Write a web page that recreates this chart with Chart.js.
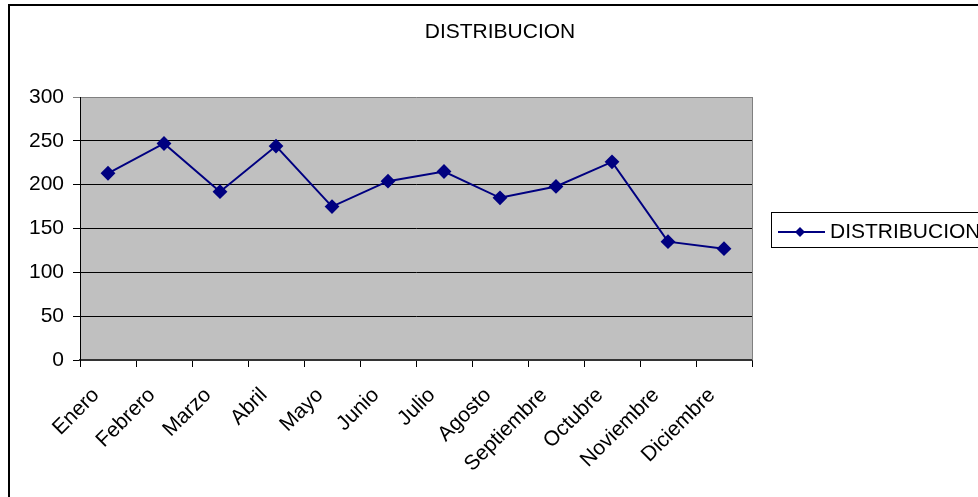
<!DOCTYPE html>
<html>
<head>
<meta charset="utf-8">
<script src="https://cdn.jsdelivr.net/npm/chart.js@4/dist/chart.umd.min.js"></script>
<style>
  html, body { margin: 0; padding: 0; background: #fff; }
  #wrap { width: 978px; height: 497px; position: relative; }
</style>
</head>
<body>
<div id="wrap"><canvas id="c" width="978" height="497"></canvas></div>
<script>
const chartTitle = "DISTRIBUCION";
const seriesName = "DISTRIBUCION";
const months = ["Enero","Febrero","Marzo","Abril","Mayo","Junio","Julio","Agosto","Septiembre","Octubre","Noviembre","Diciembre"];
const distribucion = [213, 247, 192, 244, 175, 204, 215, 185, 198, 226, 135, 127];
const yTicks = [0, 50, 100, 150, 200, 250, 300];

const FONT = "'Liberation Sans', Arial, sans-serif";
const FSIZE = 21;
const NAVY = "#000080";

const framePlugin = {
  id: 'frame',
  beforeDraw(chart) {
    const {ctx, chartArea: a} = chart;
    ctx.save();
    ctx.fillStyle = '#c0c0c0';
    ctx.fillRect(a.left, a.top, a.right - a.left, a.bottom - a.top);
    ctx.restore();
  },
  afterDraw(chart) {
    const {ctx, chartArea: a} = chart;
    ctx.save();
    // plot right border
    ctx.strokeStyle = '#808080';
    ctx.lineWidth = 1;
    ctx.beginPath();
    ctx.moveTo(a.right + 0.5, a.top);
    ctx.lineTo(a.right + 0.5, a.bottom);
    ctx.stroke();
    // outer border
    ctx.strokeStyle = '#000';
    ctx.lineWidth = 2;
    ctx.strokeRect(9, 5, 1100, 1100);
    // title
    ctx.fillStyle = '#000';
    ctx.font = FSIZE + "px " + FONT;
    ctx.textAlign = 'center';
    ctx.textBaseline = 'middle';
    ctx.fillText(chartTitle, 500, 32);
    // legend
    const lx = 771, ly = 212, lw = 260, lh = 35;
    ctx.lineWidth = 1;
    ctx.strokeStyle = '#000';
    ctx.fillStyle = '#fff';
    ctx.fillRect(lx, ly, lw, lh);
    ctx.strokeRect(lx + 0.5, ly + 0.5, lw, lh);
    const cy = 232;
    ctx.strokeStyle = NAVY;
    ctx.lineWidth = 2;
    ctx.beginPath();
    ctx.moveTo(778, cy);
    ctx.lineTo(825, cy);
    ctx.stroke();
    ctx.fillStyle = NAVY;
    ctx.beginPath();
    ctx.moveTo(800, cy - 5);
    ctx.lineTo(805, cy);
    ctx.lineTo(800, cy + 5);
    ctx.lineTo(795, cy);
    ctx.closePath();
    ctx.fill();
    ctx.fillStyle = '#000';
    ctx.font = FSIZE + "px " + FONT;
    ctx.textAlign = 'left';
    ctx.textBaseline = 'middle';
    ctx.fillText(seriesName, 830, cy);
    ctx.restore();
  }
};

new Chart(document.getElementById('c'), {
  type: 'line',
  data: {
    labels: months,
    datasets: [{
      label: seriesName,
      data: distribucion,
      borderColor: NAVY,
      backgroundColor: NAVY,
      borderWidth: 2,
      pointStyle: 'rectRot',
      pointRadius: 6,
      pointHoverRadius: 6,
      pointBackgroundColor: NAVY,
      pointBorderColor: NAVY,
      tension: 0,
      fill: false
    }]
  },
  options: {
    responsive: false,
    animation: false,
    devicePixelRatio: 1,
    layout: { padding: { left: 0, right: 226, top: 97, bottom: 0 } },
    plugins: {
      legend: { display: false },
      tooltip: { enabled: false },
      title: { display: false }
    },
    scales: {
      x: {
        type: 'category',
        offset: true,
        afterFit(scale) { scale.height = 137; },
        grid: { offset: true, drawOnChartArea: false, drawTicks: true, tickLength: 7, color: '#000' },
        border: { color: '#333', width: 2 },
        ticks: {
          color: '#000',
          font: { family: FONT, size: FSIZE },
          minRotation: 45,
          maxRotation: 45,
          autoSkip: false,
          padding: 16,
          labelOffset: -12
        }
      },
      y: {
        min: 0,
        max: 300,
        afterFit(scale) { scale.width = 80; },
        afterBuildTicks(scale) { scale.ticks = yTicks.map(v => ({ value: v })); },
        grid: {
          color: ctx => (ctx.tick && ctx.tick.value === 300) ? '#808080' : '#000',
          tickLength: 7,
          drawTicks: true
        },
        border: { color: '#000', width: 1 },
        ticks: {
          color: '#000',
          font: { family: FONT, size: FSIZE },
          padding: 9
        }
      }
    }
  },
  plugins: [framePlugin]
});
</script>
</body>
</html>
